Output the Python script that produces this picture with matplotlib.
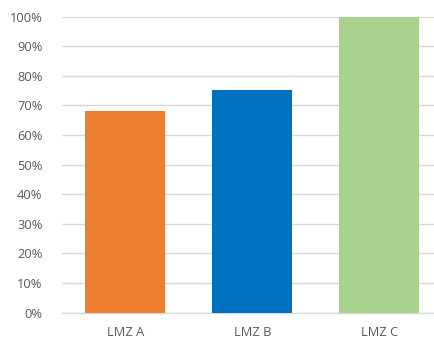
import matplotlib.pyplot as plt
from matplotlib.ticker import PercentFormatter

# bar chart of LMZ shares
categories = ['LMZ A', 'LMZ B', 'LMZ C']
values = [68.2, 75.2, 100.0]
colors = ['#ED7D31', '#0070C0', '#A9D18E']

W, H = 435, 338
fig = plt.figure(figsize=(W / 100, H / 100), dpi=100)
# plot area runs past the right edge of the image
left, right = 62, 442.5
bottom, top = 312.5, 16.5
ax = fig.add_axes([left / W, 1 - bottom / H, (right - left) / W, (bottom - top) / H])

x = range(len(categories))
ax.bar(x, values, width=0.63, color=colors, zorder=3)

ax.set_xlim(-0.5, len(categories) - 0.5)
ax.set_ylim(0, 100)
ax.set_yticks(range(0, 101, 10))
ax.yaxis.set_major_formatter(PercentFormatter(decimals=0))
ax.set_xticks(list(x))
ax.set_xticklabels(categories)

ax.grid(axis='y', color='#D9D9D9', linewidth=1.0, zorder=0)
for side in ['top', 'right', 'left']:
    ax.spines[side].set_visible(False)
ax.spines['bottom'].set_color('#D9D9D9')
ax.spines['bottom'].set_linewidth(1.0)

ax.tick_params(axis='both', length=0, labelsize=9.3, labelcolor='#595959')
ax.tick_params(axis='y', pad=14)
ax.tick_params(axis='x', pad=10)
for lbl in ax.get_xticklabels() + ax.get_yticklabels():
    lbl.set_fontfamily('Open Sans')

fig.savefig('out.png', dpi=100)
